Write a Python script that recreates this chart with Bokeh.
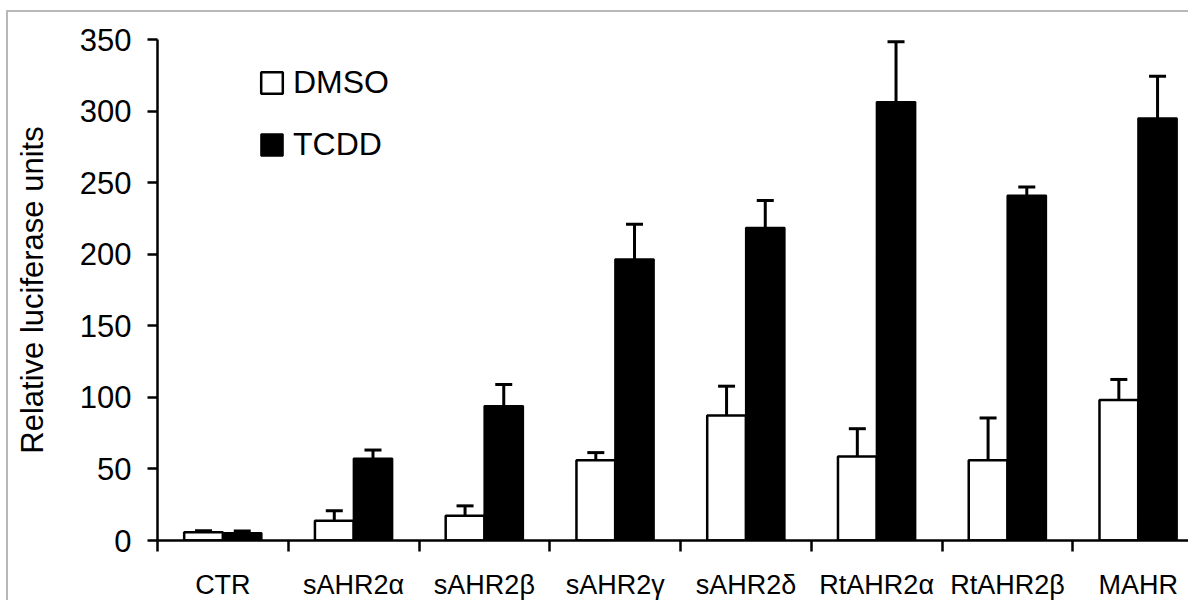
from bokeh.plotting import figure
from bokeh.models import Range1d, FixedTicker, Whisker, TeeHead, ColumnDataSource, Legend, LegendItem
from bokeh.embed import file_html
from bokeh.resources import INLINE

categories = ["CTR", "sAHR2α", "sAHR2β", "sAHR2γ", "sAHR2δ", "RtAHR2α", "RtAHR2β", "MAHR"]
dmso = [5.7, 13.8, 17.3, 56.1, 87.3, 58.7, 56.1, 98.1]
dmso_err = [1.1, 7.0, 6.9, 5.3, 20.5, 19.4, 29.5, 14.4]
tcdd = [5.2, 57.2, 93.9, 196.5, 218.5, 306.3, 241.1, 294.9]
tcdd_err = [1.4, 6.0, 15.1, 24.4, 19.1, 42.2, 5.8, 29.5]
y_ticks = [0, 50, 100, 150, 200, 250, 300, 350]

BAR_W = 0.296
FONT = "Liberation Sans"

idx = list(range(len(categories)))
centers = [i + 0.5 for i in idx]
src_d = ColumnDataSource(dict(
    x=[c - BAR_W / 2 for c in centers], top=dmso,
    hi=[v + e for v, e in zip(dmso, dmso_err)]))
src_t = ColumnDataSource(dict(
    x=[c + BAR_W / 2 for c in centers], top=tcdd,
    hi=[v + e for v, e in zip(tcdd, tcdd_err)]))

p = figure(width=1182, height=590, x_range=Range1d(0, 7.9), y_range=Range1d(0, 350),
           output_backend="svg", toolbar_location=None,
           min_border_left=149, min_border_right=0, min_border_top=27, min_border_bottom=60)
p.grid.visible = False
p.outline_line_color = None
p.styles = {"border-top": "2px solid #b8b8b8", "border-left": "2px solid #b8b8b8",
            "margin-top": "10px", "margin-left": "6px"}

r_d = p.vbar(x="x", top="top", bottom=0, width=BAR_W, source=src_d,
             fill_color="white", line_color="black", line_width=2.5)
r_t = p.vbar(x="x", top="top", bottom=0, width=BAR_W, source=src_t,
             fill_color="black", line_color="black", line_width=2)

for src in (src_d, src_t):
    w = Whisker(base="x", lower="top", upper="hi", source=src, line_width=3, line_color="black",
                upper_head=TeeHead(size=17, line_width=3, line_color="black"), lower_head=None)
    p.add_layout(w)

xa = p.xaxis[0]
xa.ticker = FixedTicker(ticks=centers, minor_ticks=list(range(len(categories) + 1)))
xa.major_label_overrides = {c: name for c, name in zip(centers, categories)}
xa.major_tick_out = 0
xa.major_tick_in = 0
xa.minor_tick_out = 11
xa.minor_tick_in = 0
xa.minor_tick_line_width = 2.5
xa.minor_tick_line_color = "black"
xa.axis_line_width = 2.5
xa.axis_line_color = "black"
xa.major_label_text_font = FONT
xa.major_label_text_font_size = "27px"
xa.major_label_text_color = "black"
xa.major_label_standoff = 18

ya = p.yaxis[0]
ya.ticker = FixedTicker(ticks=y_ticks, minor_ticks=[])
ya.major_tick_out = 10
ya.major_tick_in = 0
ya.major_tick_line_width = 2.5
ya.major_tick_line_color = "black"
ya.axis_line_width = 2.5
ya.axis_line_color = "black"
ya.major_label_text_font = FONT
ya.major_label_text_font_size = "31px"
ya.major_label_text_color = "black"
ya.major_label_standoff = 16
ya.axis_label = "Relative luciferase units"
ya.axis_label_text_font = FONT
ya.axis_label_text_font_size = "31px"
ya.axis_label_text_font_style = "normal"
ya.axis_label_text_color = "black"
ya.axis_label_standoff = 27

legend = Legend(items=[LegendItem(label="DMSO", renderers=[r_d]),
                       LegendItem(label="TCDD", renderers=[r_t])],
                location=(101, 377), orientation="vertical",
                label_text_font=FONT, label_text_font_size="32px", label_text_color="black",
                glyph_width=27, glyph_height=27, label_standoff=8, spacing=25,
                padding=0, margin=0, border_line_color=None, background_fill_alpha=0)
p.add_layout(legend)

open("out.html", "w").write(file_html(p, INLINE))
